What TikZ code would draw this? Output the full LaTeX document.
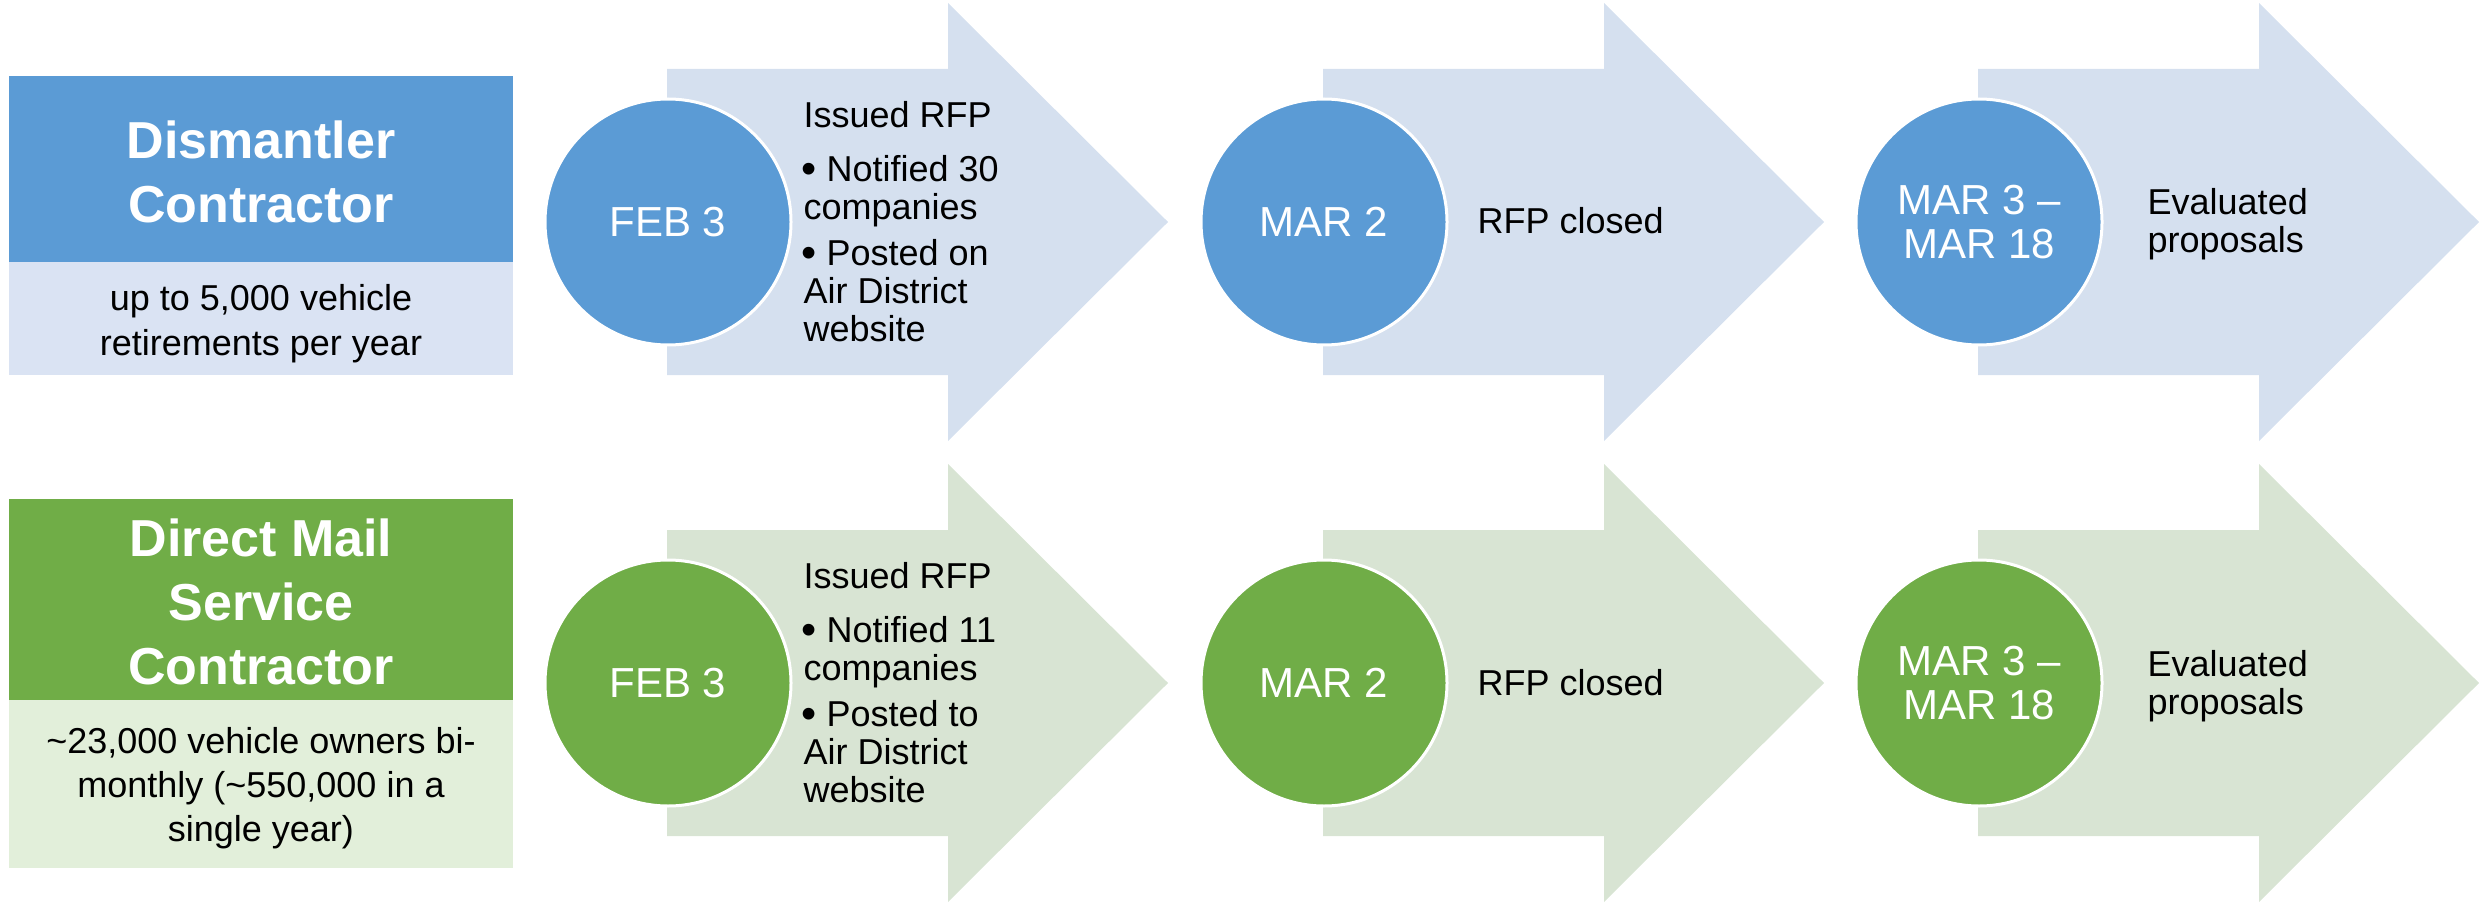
\documentclass[tikz,border=0pt]{standalone}
\usepackage{fontspec}
\setmainfont{Liberation Sans}
\definecolor{blueD}{HTML}{5B9BD5}
\definecolor{blueA}{HTML}{D5E0EF}
\definecolor{blueB}{HTML}{DAE3F3}
\definecolor{greenD}{HTML}{70AD47}
\definecolor{greenA}{HTML}{D8E4D3}
\definecolor{greenB}{HTML}{E2EFDA}
\newcommand{\mybul}{\noindent\makebox[6.9pt][l]{\hspace{-0.6pt}\raisebox{-0.06em}{\scalebox{1.2}{\textbullet}}}}
\begin{document}
\begin{tikzpicture}[x=0.3pt,y=-0.3pt,
  hdr/.style={inner sep=0pt, text=white, font=\fontsize{15.6}{19.1}\selectfont\bfseries, anchor=base},
  body/.style={inner sep=0pt, font=\fontsize{10.8}{13.3}\selectfont, anchor=base},
  dot/.style={circle, minimum size=73.8pt, inner sep=0pt, draw=white, line width=0.9pt, text=white, align=center, font=\fontsize{12.6}{13}\selectfont},
  stxt/.style={inner sep=0pt, anchor=base west, font=\fontsize{10.8}{11.4}\selectfont}
]
\useasboundingbox (0,0) rectangle (2479,903);
% process arrows
\foreach \cy/\col in {222/blueA, 683/greenA}{
  \foreach \xo in {667,1323,1978}{
    \fill[\col] (\xo,\cy-153) -- (\xo+281,\cy-153) -- (\xo+281,\cy-219) -- (\xo+501,\cy)
      -- (\xo+281,\cy+219) -- (\xo+281,\cy+153) -- (\xo,\cy+153) -- cycle;
  }
}
% left boxes
\fill[blueD] (9,76) rectangle (513,262);
\fill[blueB] (9,262) rectangle (513,375);
\fill[greenD] (9,499) rectangle (513,700);
\fill[greenB] (9,700) rectangle (513,868);
\node[hdr] (h1) at (261,159) {\parbox[t]{145pt}{\centering Dismantler\\Contractor}};
\node[body] (b1) at (261,310.7) {\parbox[t]{148pt}{\centering up to 5,000 vehicle\\retirements per year}};
\node[hdr] (h2) at (261,556.7) {\parbox[t]{145pt}{\centering Direct Mail\\Service\\Contractor}};
\node[body] (b2) at (261,753.3) {\parbox[t]{148pt}{\centering \textasciitilde 23,000 vehicle owners bi-\\monthly (\textasciitilde 550,000 in a\\single year)}};
% circles
\node[dot, fill=blueD] (c11) at (668,222) {FEB 3};
\node[dot, fill=blueD] (c12) at (1324,222) {MAR 2};
\node[dot, fill=blueD] (c13) at (1979,222) {MAR 3 –\\MAR 18};
\node[dot, fill=greenD] (c21) at (668,683) {FEB 3};
\node[dot, fill=greenD] (c22) at (1324,683) {MAR 2};
\node[dot, fill=greenD] (c23) at (1979,683) {MAR 3 –\\MAR 18};
% arrow texts
\node[stxt] (t11) at (803,127.7) {\parbox[t]{72pt}{\raggedright Issued RFP\par\vspace{4.8pt}%
  \hangindent=6.9pt\hangafter=1\mybul Notified 30\\companies\par\vspace{2.3pt}%
  \hangindent=6.9pt\hangafter=1\mybul Posted on\\Air District\\website\par}};
\node[stxt] (t12) at (1477,234) {RFP closed};
\node[stxt] (t13) at (2147,215) {\parbox[t]{60pt}{\raggedright Evaluated\\proposals}};
\node[stxt] (t21) at (803,588.7) {\parbox[t]{72pt}{\raggedright Issued RFP\par\vspace{4.8pt}%
  \hangindent=6.9pt\hangafter=1\mybul Notified 11\\companies\par\vspace{2.3pt}%
  \hangindent=6.9pt\hangafter=1\mybul Posted to\\Air District\\website\par}};
\node[stxt] (t22) at (1477,695) {RFP closed};
\node[stxt] (t23) at (2147,676) {\parbox[t]{60pt}{\raggedright Evaluated\\proposals}};
\end{tikzpicture}
\end{document}
